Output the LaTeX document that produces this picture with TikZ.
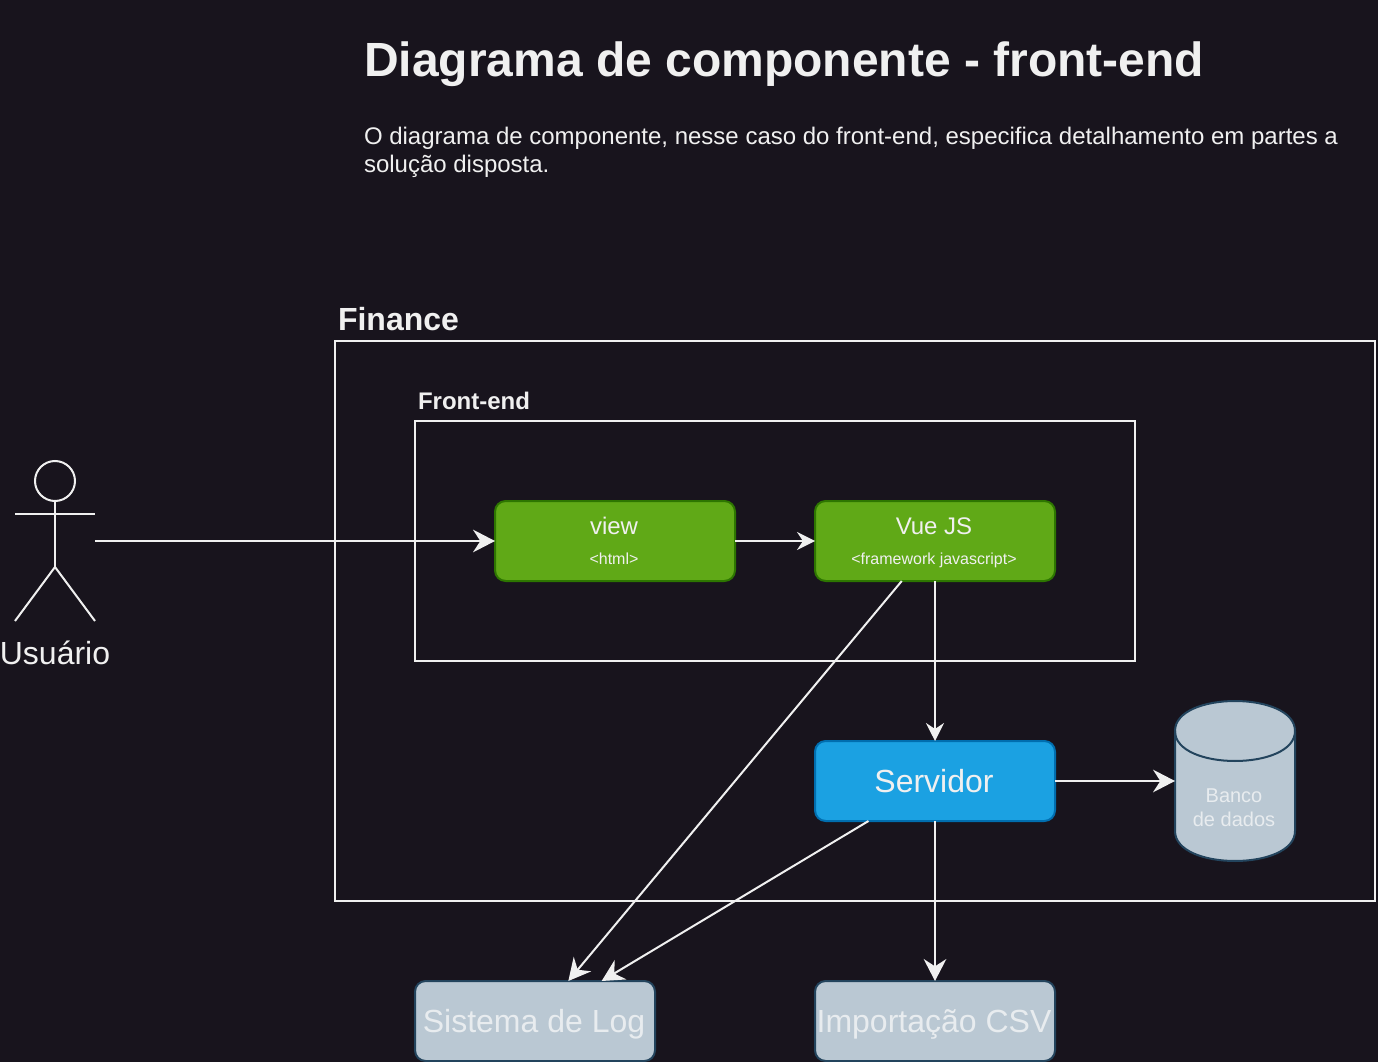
\documentclass[tikz,border=0pt]{standalone}
\usepackage{fontspec}
\setmainfont{Liberation Sans}
\usepackage{tikz}
\usetikzlibrary{arrows.meta}
\definecolor{fundo}{HTML}{18141D}
\definecolor{linha}{HTML}{F0F0F0}
\definecolor{verde}{HTML}{60A917}
\definecolor{verdeborda}{HTML}{2D7600}
\definecolor{azul}{HTML}{1BA1E2}
\definecolor{azulborda}{HTML}{006EAF}
\definecolor{cinza}{HTML}{BAC8D3}
\definecolor{cinzaborda}{HTML}{23445D}
\definecolor{cinzatexto}{HTML}{E8ECEF}
\newcommand{\tampx}[2]{\fontsize{#1}{#2}\selectfont}
\tikzstyle{quadro} = [rectangle, draw=linha, line width=1.5pt, inner sep=0pt,
    outer sep=0pt]
\tikzstyle{caixa} = [rectangle, rounded corners=8pt, line width=1.5pt, inner sep=0pt,
    outer sep=0pt, minimum width=180pt, minimum height=60pt, text depth=0pt,
    text=linha, execute at end node={\kern1.5pt}]
\tikzstyle{comp} = [caixa, fill=verde, draw=verdeborda]
\tikzstyle{servico} = [caixa, fill=azul, draw=azulborda, font=\tampx{24}{28}]
\tikzstyle{externo} = [caixa, fill=cinza, draw=cinzaborda, text=cinzatexto,
    font=\tampx{24}{28}]
\tikzstyle{rotulo} = [inner sep=0pt, outer sep=0pt, text=linha, anchor=base west]
\tikzstyle{conector} = [draw=linha, line width=1.5pt]
\tikzstyle{grande} = [conector, -{Stealth[length=16.5pt,width=17pt,inset=5.5pt]}]
\tikzstyle{pequena} = [conector, -{Stealth[length=13.5pt,width=13.5pt,inset=4.5pt]}]

\begin{document}
\begin{tikzpicture}[x=0.75pt,y=-0.75pt]
  \useasboundingbox [fill=fundo] (0,0) rectangle (1378,1062);

  % textos do topo
  \node [rotulo, font=\bfseries\tampx{36}{42}] (titulo) at (364,77) {Diagrama de componente - front-end};
  \node [rotulo, anchor=north west, align=left, font=\tampx{18}{21}] (descricao) at (364,127)
    {O diagrama de componente, nesse caso do front-end, especifica detalhamento em partes a\\
     solução disposta.};

  % quadros
  \node [quadro, minimum width=780pt, minimum height=420pt] (finance) at (855,621) {};
  \node [rotulo, font=\bfseries\tampx{24}{28}] (financeT) at (338,331) {Finance};
  \node [quadro, minimum width=540pt, minimum height=180pt] (frontend) at (775,541) {};
  \node [rotulo, font=\bfseries\tampx{18}{21}] (frontendT) at (418,410) {Front-end};

  % usuario
  \node [circle, draw=linha, line width=1.5pt, minimum size=30pt, inner sep=0pt, outer sep=0pt] (cabeca) at (55,481) {};
  \coordinate (quadril) at (55,567);
  \coordinate (bracoE) at (15,514);
  \coordinate (bracoD) at (95,514);
  \coordinate (peE) at (15,621);
  \coordinate (peD) at (95,621);
  \coordinate (usuario) at (95,541);
  \draw [conector] (cabeca.south) -- (quadril);
  \draw [conector] (bracoE) -- (bracoD);
  \draw [conector] (peE) -- (quadril) -- (peD);
  \node [rotulo, anchor=base, font=\tampx{24}{28}] (usuarioT) at (55,664) {Usuário};

  % componentes
  \node [comp] (view) at (615,541) {};
  \node [rotulo, anchor=base, font=\tampx{18}{21}] (viewT) at (614,534) {view};
  \node [rotulo, anchor=base, font=\tampx{12}{14}] (viewS) at (614,564) {<html>};
  \node [comp] (vue) at (935,541) {};
  \node [rotulo, anchor=base, font=\tampx{18}{21}] (vueT) at (934,534) {Vue JS};
  \node [rotulo, anchor=base, font=\tampx{12}{14}] (vueS) at (934,564) {<framework javascript>};
  \node [servico] (servidor) at (935,781) {Servidor};

  % banco de dados
  \node [rectangle, inner sep=0pt, outer sep=0pt, minimum width=90pt, minimum height=120pt] (banco) at (1235,781) {};
  \draw [draw=cinzaborda, fill=cinza, line width=1.5pt] (1175,731)
    .. controls (1175,691) and (1295,691) .. (1295,731) -- (1295,831)
    .. controls (1295,871) and (1175,871) .. (1175,831) -- cycle;
  \draw [draw=cinzaborda, line width=1.5pt] (1175,731) .. controls (1175,771) and (1295,771) .. (1295,731);
  \node [rotulo, anchor=center, align=center, text=cinzatexto, font=\tampx{15}{18}] (bancoT) at (1234,808) {Banco\\de dados};

  \node [externo] (log) at (535,1021) {Sistema de Log};
  \node [externo] (csv) at (935,1021) {Importação CSV};

  % conectores
  \draw [grande] (usuario) -- (view);
  \draw [pequena] (view) -- (vue);
  \draw [pequena] (vue) -- (servidor);
  \draw [grande] (vue) -- (log);
  \draw [grande] (servidor) -- (log);
  \draw [grande] (servidor) -- (banco);
  \draw [grande] (servidor) -- (csv);
\end{tikzpicture}
\end{document}
